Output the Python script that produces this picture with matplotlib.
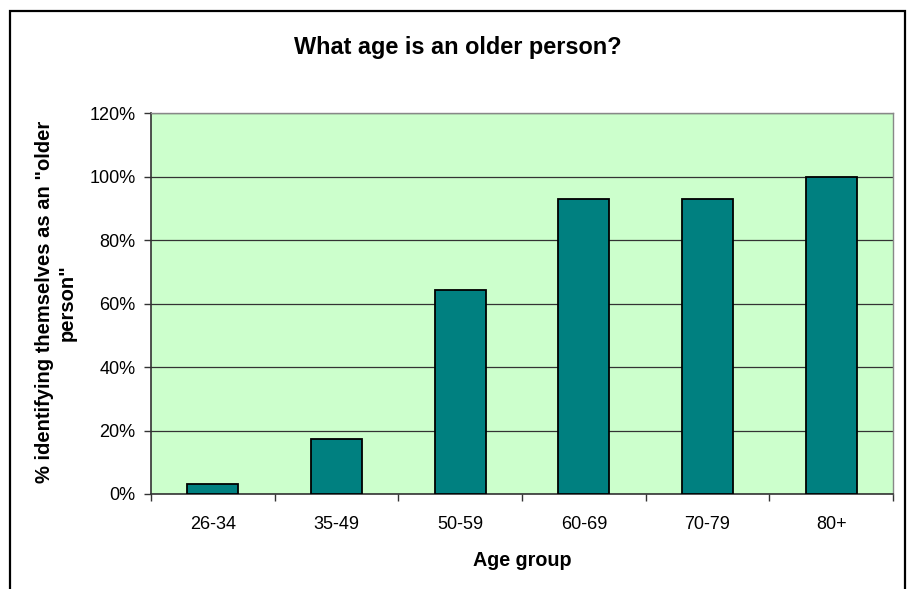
import numpy as np
import matplotlib.pyplot as plt
from matplotlib.patches import Rectangle
from matplotlib.ticker import PercentFormatter

plt.rcParams['font.family'] = ['Liberation Sans', 'DejaVu Sans']

# values (percent)
age_groups = ['26-34', '35-49', '50-59', '60-69', '70-79', '80+']
pct_older = [3.0, 17.3, 64.3, 93.0, 93.0, 100.0]
y_ticks = [0, 20, 40, 60, 80, 100, 120]

fig = plt.figure(figsize=(9.09, 5.89), dpi=100)
ax = fig.add_axes([0.1661, 0.1613, 0.8163, 0.6468])
ax.set_facecolor('#CCFFCC')

x = np.arange(len(age_groups))
ax.bar(x, pct_older, width=0.41, color='#008080', edgecolor='black',
       linewidth=1.3, zorder=3)

ax.set_xlim(-0.5, len(age_groups) - 0.5)
ax.set_ylim(0, 120)
ax.set_yticks(y_ticks)
ax.yaxis.set_major_formatter(PercentFormatter(decimals=0))
ax.yaxis.grid(True, color='#333333', linewidth=0.9, zorder=1)
ax.set_axisbelow(True)

# categories labelled at centres, tick marks at the boundaries
ax.set_xticks(x)
ax.set_xticklabels(age_groups)
ax.set_xticks(np.arange(-0.5, len(age_groups)), minor=True)
ax.tick_params(axis='x', which='major', length=0, pad=16, labelsize=13)
ax.tick_params(axis='x', which='minor', length=5, width=1, color='#333333')
ax.tick_params(axis='y', length=5, width=1, color='#333333', pad=6, labelsize=13)

for side in ['left', 'bottom']:
    ax.spines[side].set_color('#333333')
    ax.spines[side].set_linewidth(1.2)
for side in ['top', 'right']:
    ax.spines[side].set_color('#888888')
    ax.spines[side].set_linewidth(1.0)

fig.text(0.504, 0.920, 'What age is an older person?', ha='center', va='center',
         fontsize=16.9, fontweight='bold')
fig.text(0.574, 0.049, 'Age group', ha='center', va='center',
         fontsize=14.2, fontweight='bold')
fig.text(0.0616, 0.487, '% identifying themselves as an "older\nperson"',
         ha='center', va='center', rotation=90, fontsize=14.5,
         fontweight='bold', linespacing=1.2)

# chart border, its bottom edge falls outside the image
fig.patches.append(Rectangle((10 / 909, -0.05), 895 / 909, 1.05 - 11 / 589,
                             transform=fig.transFigure, fill=False,
                             edgecolor='black', linewidth=1.6))

fig.savefig('out.png', dpi=100)
